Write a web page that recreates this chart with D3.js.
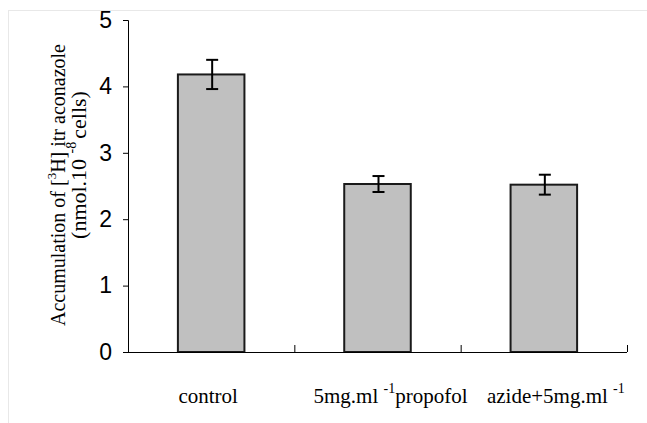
<!DOCTYPE html>
<html>
<head>
<meta charset="utf-8">
<script src="https://cdn.jsdelivr.net/npm/d3@7"></script>
<style>
  html, body { margin: 0; padding: 0; background: #fff; }
  svg { display: block; }
</style>
</head>
<body>
<div id="chart_div"></div>
<script>
// values
var categories = ['control', 'propofol', 'azide'];
var means = [4.18, 2.53, 2.52];
var errors = [0.22, 0.12, 0.15];
var y_ticks = [0, 1, 2, 3, 4, 5];

// label pieces: [text, is_superscript]
var cat_labels = [
    [['control', false]],
    [['5mg.ml ', false], ['-1', true], ['propofol', false]],
    [['azide+5mg.ml ', false], ['-1', true]]
];

function draw_chart() {
    var width = 647, height = 423;
    var margin = {top: 20, right: 20, bottom: 71, left: 128};
    var label_dx = [-3, 13, 12]; // the labels sit a bit right of the band centres

    var svg = d3.select('#chart_div')
        .append('svg')
        .attr('width', width)
        .attr('height', height);

    // faint frame around the figure
    svg.append('rect')
        .attr('x', 8.5).attr('y', 10.5)
        .attr('width', width).attr('height', height)
        .attr('fill', 'none')
        .attr('stroke', '#e8e8e8');

    var x = d3.scaleBand()
        .domain(categories)
        .range([margin.left, width - margin.right])
        .padding(0);

    var y = d3.scaleLinear()
        .domain([0, 5])
        .range([height - margin.bottom, margin.top]);

    var bar_w = x.bandwidth() * 0.4;

    // bars
    svg.append('g').selectAll('rect')
        .data(means)
        .enter()
        .append('rect')
        .attr('x', (d, i) => x(categories[i]) + (x.bandwidth() - bar_w) / 2)
        .attr('y', d => y(d))
        .attr('width', bar_w)
        .attr('height', d => y(0) - y(d))
        .attr('fill', '#c0c0c0')
        .attr('stroke', '#1a1a1a')
        .attr('stroke-width', 2);

    // error bars
    var err_g = svg.append('g')
        .attr('stroke', '#000')
        .attr('stroke-width', 2);
    means.forEach(function(m, i) {
        var cx = x(categories[i]) + x.bandwidth() / 2 + 1;
        err_g.append('line')
            .attr('x1', cx).attr('x2', cx)
            .attr('y1', y(m + errors[i])).attr('y2', y(m - errors[i]));
        [m + errors[i], m - errors[i]].forEach(function(v) {
            err_g.append('line')
                .attr('x1', cx - 6).attr('x2', cx + 6)
                .attr('y1', y(v)).attr('y2', y(v));
        });
    });

    // y axis
    var y_axis = svg.append('g')
        .attr('transform', `translate(${margin.left},0)`)
        .call(d3.axisLeft(y).tickValues(y_ticks).tickFormat(d3.format('d')).tickSize(5).tickPadding(11));
    y_axis.select('.domain').attr('stroke', '#000');
    y_axis.selectAll('.tick line').attr('stroke', '#000');
    y_axis.selectAll('.tick text')
        .attr('fill', '#000')
        .style('font-family', 'Liberation Sans, Arial, sans-serif')
        .style('font-size', '23px');

    // x axis: line with upward ticks at category boundaries
    var x_axis = svg.append('g');
    x_axis.append('line')
        .attr('x1', margin.left).attr('x2', width - margin.right)
        .attr('y1', y(0) + 0.5).attr('y2', y(0) + 0.5)
        .attr('stroke', '#000');
    x_axis.selectAll('.xtick')
        .data(categories)
        .enter()
        .append('line')
        .attr('class', 'xtick')
        .attr('x1', d => x(d) + x.bandwidth() + 0.5)
        .attr('x2', d => x(d) + x.bandwidth() + 0.5)
        .attr('y1', y(0))
        .attr('y2', y(0) - 7)
        .attr('stroke', '#000');

    // category labels
    var lab = svg.append('g')
        .style('font-family', 'Liberation Serif, Times New Roman, serif')
        .style('font-size', '21px')
        .attr('fill', '#000');
    cat_labels.forEach(function(parts, i) {
        var t = lab.append('text')
            .attr('x', x(categories[i]) + x.bandwidth() / 2 + label_dx[i])
            .attr('y', 403)
            .attr('text-anchor', 'middle');
        parts.forEach(function(p, j) {
            var ts = t.append('tspan').text(p[0]);
            if (p[1]) ts.attr('dy', -10).style('font-size', '14px');
            else if (j > 0 && parts[j - 1][1]) ts.attr('dy', 10);
        });
    });

    // y axis title, two lines
    var title = svg.append('g')
        .style('font-family', 'Liberation Serif, Times New Roman, serif')
        .attr('fill', '#000');
    var t1 = title.append('text')
        .attr('transform', 'translate(65,185) rotate(-90)')
        .attr('text-anchor', 'middle')
        .style('font-size', '20px');
    t1.append('tspan').text('Accumulation of [');
    t1.append('tspan').attr('dy', -9).style('font-size', '13px').text('3');
    t1.append('tspan').attr('dy', 9).text('H] itr aconazole');

    var t2 = title.append('text')
        .attr('transform', 'translate(86,165) rotate(-90)')
        .attr('text-anchor', 'middle')
        .style('font-size', '22px');
    t2.append('tspan').text('(nmol.10 ');
    t2.append('tspan').attr('dy', -10).style('font-size', '14px').text('-8');
    t2.append('tspan').attr('dy', 10).attr('dx', 3).text('cells)');
}

draw_chart();
</script>
</body>
</html>
